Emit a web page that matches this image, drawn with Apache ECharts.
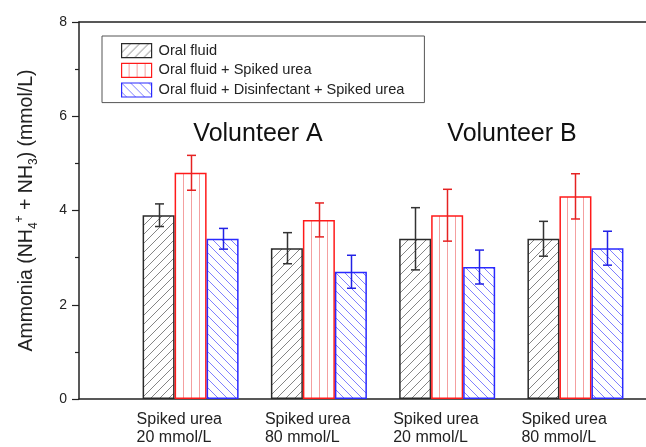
<!DOCTYPE html>
<html>
<head>
<meta charset="utf-8">
<script src="https://cdn.jsdelivr.net/npm/echarts@6/dist/echarts.min.js"></script>
<style>html,body{margin:0;padding:0;background:#fff;}#c{width:646px;height:447px;}</style>
</head>
<body>
<div id="c"></div>
<script>
// ---- data ----
const categories = ['Spiked urea\n20 mmol/L', 'Spiked urea\n80 mmol/L', 'Spiked urea\n20 mmol/L', 'Spiked urea\n80 mmol/L'];
const seriesNames = ['Oral fluid', 'Oral fluid + Spiked urea', 'Oral fluid + Disinfectant + Spiked urea'];
const oralFluid = [3.9, 3.2, 3.4, 3.4];
const oralFluidErr = [0.24, 0.33, 0.66, 0.37];
const spikedUrea = [4.8, 3.8, 3.9, 4.3];
const spikedUreaErr = [0.37, 0.36, 0.55, 0.48];
const disinfectant = [3.4, 2.7, 2.8, 3.2];
const disinfectantErr = [0.22, 0.35, 0.36, 0.36];
const volunteers = ['Volunteer A', 'Volunteer B'];
const yTicks = [0, 2, 4, 6, 8];

// ---- styles ----
const FONT = 'Liberation Sans, Arial, sans-serif';
const BAR_W = 32;
const borderColors = ['#2a2a2a', '#ff1a1a', '#2a2aff'];
const hatchColors = ['#858585', '#f4a0a0', '#8080ff'];
const errColors = ['#333333', '#e52222', '#2222e5'];

function makePattern(type, color) {
  const s = type === '|' ? 8 : 9;
  const c = document.createElement('canvas');
  c.width = s; c.height = s;
  const ctx = c.getContext('2d');
  ctx.fillStyle = '#ffffff';
  ctx.fillRect(0, 0, s, s);
  ctx.strokeStyle = color;
  ctx.lineWidth = 1;
  ctx.beginPath();
  if (type === '/') {
    ctx.moveTo(-1, s + 1); ctx.lineTo(s + 1, -1);
    ctx.moveTo(-1, 1); ctx.lineTo(1, -1);
    ctx.moveTo(s - 1, s + 1); ctx.lineTo(s + 1, s - 1);
  } else if (type === '\\') {
    ctx.moveTo(-1, -1); ctx.lineTo(s + 1, s + 1);
    ctx.moveTo(s - 1, -1); ctx.lineTo(s + 1, 1);
    ctx.moveTo(-1, s - 1); ctx.lineTo(1, s + 1);
  } else {
    ctx.moveTo(7.5, 0); ctx.lineTo(7.5, s);
  }
  ctx.stroke();
  return { image: c, repeat: 'repeat' };
}
const patterns = [makePattern('/', hatchColors[0]), makePattern('|', hatchColors[1]), makePattern('\\', hatchColors[2])];

const means = [oralFluid, spikedUrea, disinfectant];
const errs = [oralFluidErr, spikedUreaErr, disinfectantErr];

const chart = echarts.init(document.getElementById('c'), null, { renderer: 'canvas' });

const series = [];
means.forEach((arr, k) => {
  series.push({
    name: seriesNames[k],
    type: 'bar',
    xAxisIndex: 0,
    data: arr.map((v, i) => [i + 1, v]),
    barWidth: BAR_W,
    barGap: '0%',
    itemStyle: { color: patterns[k], borderColor: borderColors[k], borderWidth: 1.5 },
    emphasis: { disabled: true },
    z: 2
  });
});
means.forEach((arr, k) => {
  series.push({
    type: 'custom',
    xAxisIndex: 0,
    data: arr.map((v, i) => [i + 1, v, errs[k][i]]),
    encode: { x: 0, y: 1 },
    z: 5,
    silent: true,
    renderItem: function (params, api) {
      const x = api.value(0), m = api.value(1), e = api.value(2);
      const off = (k - 1) * BAR_W;
      const top = api.coord([x, m + e]);
      const bot = api.coord([x, m - e]);
      const cx = Math.round(top[0] + off) + 0.5;
      const hw = 4.5;
      const st = { stroke: errColors[k], lineWidth: 1.5 };
      return {
        type: 'group',
        children: [
          { type: 'line', shape: { x1: cx, y1: top[1], x2: cx, y2: bot[1] }, style: st },
          { type: 'line', shape: { x1: cx - hw, y1: top[1], x2: cx + hw, y2: top[1] }, style: st },
          { type: 'line', shape: { x1: cx - hw, y1: bot[1], x2: cx + hw, y2: bot[1] }, style: st }
        ]
      };
    }
  });
});

const axisCol = '#222';

chart.setOption({
  animation: false,
  backgroundColor: '#ffffff',
  textStyle: { fontFamily: FONT },
  grid: { left: 79, right: 0, top: 22, bottom: 48, containLabel: false },
  legend: {
    orient: 'vertical',
    left: 102,
    top: 36,
    icon: 'rect',
    itemWidth: 30,
    itemHeight: 14,
    itemGap: 4.5,
    padding: [7, 20, 5, 19],
    borderColor: '#555',
    borderWidth: 1,
    selectedMode: false,
    textStyle: { fontFamily: FONT, fontSize: 14.6, color: '#222', padding: [0, 0, 0, 2] },
    data: seriesNames.map((n, k) => ({
      name: n,
      itemStyle: { color: patterns[k], borderColor: borderColors[k], borderWidth: 1.2 }
    }))
  },
  xAxis: [
    {
      type: 'value',
      position: 'bottom',
      min: 0.13,
      max: 4.55,
      splitLine: { show: false },
      axisLine: { show: true, lineStyle: { color: axisCol, width: 1.5 } },
      axisTick: { show: false },
      axisLabel: {
        customValues: [1, 2, 3, 4],
        margin: 11,
        color: '#222',
        fontFamily: FONT,
        fontSize: 16,
        align: 'center',
        formatter: function (v) {
          const lines = categories[Math.round(v) - 1].split('\n');
          return lines.map(l => '{a|' + l + '}').join('\n');
        },
        rich: { a: { fontFamily: FONT, fontSize: 16, lineHeight: 18.5, width: 108, align: 'left', color: '#222' } }
      }
    },
    {
      type: 'value',
      position: 'top',
      min: 0.13,
      max: 4.55,
      splitLine: { show: false },
      axisLine: { show: true, lineStyle: { color: axisCol, width: 1.5 } },
      axisTick: { show: false },
      axisLabel: { show: false }
    }
  ],
  yAxis: {
    type: 'value',
    min: yTicks[0],
    max: yTicks[yTicks.length - 1],
    interval: yTicks[1] - yTicks[0],
    splitLine: { show: false },
    axisLine: { show: true, lineStyle: { color: axisCol, width: 1.5 } },
    axisTick: { show: true, inside: false, length: 7, lineStyle: { color: axisCol, width: 1.2 } },
    minorTick: { show: true, splitNumber: 2, length: 4, lineStyle: { color: axisCol, width: 1.2 } },
    axisLabel: { margin: 12, color: '#222', fontFamily: FONT, fontSize: 14 },
    name: '{n|Ammonia (NH}{sb|4}{sp|+}{n| + NH}{sb|3}{n|) (mmol/L)}',
    nameLocation: 'middle',
    nameGap: 39,
    nameTextStyle: {
      color: '#222',
      fontFamily: FONT,
      rich: {
        n: { fontFamily: FONT, fontSize: 19.5, lineHeight: 26, verticalAlign: 'middle', color: '#222' },
        sb: { fontFamily: FONT, fontSize: 12, lineHeight: 12, verticalAlign: 'bottom', color: '#222' },
        sp: { fontFamily: FONT, fontSize: 12, lineHeight: 12, verticalAlign: 'top', color: '#222' }
      }
    }
  },
  graphic: [
    { type: 'text', x: 258, y: 134, style: { text: volunteers[0], fontFamily: FONT, fontSize: 25, fill: '#111', textAlign: 'center', textVerticalAlign: 'middle' } },
    { type: 'text', x: 512, y: 134, style: { text: volunteers[1], fontFamily: FONT, fontSize: 25, fill: '#111', textAlign: 'center', textVerticalAlign: 'middle' } }
  ],
  series: series
});
</script>
</body>
</html>
